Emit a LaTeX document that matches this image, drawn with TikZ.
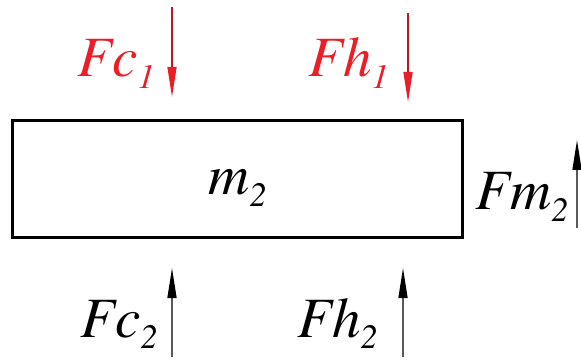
\documentclass[tikz,border=0pt]{standalone}
\usepackage{mathptmx}
\usepackage{xcolor}
\usepackage{tikz}
\usetikzlibrary{arrows.meta, positioning}
\definecolor{forcered}{RGB}{235,30,40}
\newcommand{\forcelbl}[2]{$\mathit{#1}_{\raisebox{-1.5pt}{$\scriptscriptstyle\mathit{#2}$}}$}

\begin{document}
\begin{tikzpicture}[x=0.5pt, y=-0.5pt,
    lbl/.style={anchor=base west, inner sep=0pt, font=\fontsize{28.5}{34}\selectfont},
    pushdown/.style={forcered!80!black, line width=0.7pt,
      -{Triangle[length=15pt, width=4.5pt, fill=forcered, color=forcered]}},
    pushup/.style={black!65, line width=0.7pt,
      -{Triangle[length=15pt, width=4.5pt, fill=black, color=black]}}]
  \useasboundingbox (0,0) rectangle (581,362);

  % Mass block
  \node[draw, line width=1.5pt, minimum width=225pt, minimum height=58.5pt,
        inner sep=0pt] (block) at (237,179.5) {};
  \node[lbl] (mass) at (208,195) {\forcelbl{m}{2}};

  % Top forces (red)
  \coordinate (fc1top) at (172,7);
  \coordinate (fc1tip) at (172,97);
  \coordinate (fh1top) at (408,13);
  \coordinate (fh1tip) at (408,102);
  \draw[pushdown] (fc1top) -- (fc1tip);
  \draw[pushdown] (fh1top) -- (fh1tip);
  \node[lbl, text=forcered] (fc1) at (77,77) {\forcelbl{Fc}{1}};
  \node[lbl, text=forcered] (fh1) at (308,77) {\forcelbl{Fh}{1}};

  % Bottom forces
  \coordinate (fc2low) at (172,357);
  \coordinate (fc2tip) at (172,268);
  \coordinate (fh2low) at (403,357);
  \coordinate (fh2tip) at (403,268);
  \draw[pushup] (fc2low) -- (fc2tip);
  \draw[pushup] (fh2low) -- (fh2tip);
  \node[lbl] (fc2) at (80,337) {\forcelbl{Fc}{2}};
  \node[lbl] (fh2) at (297,337) {\forcelbl{Fh}{2}};

  % Side force
  \coordinate (fm2low) at (577,228);
  \coordinate (fm2tip) at (577,140);
  \draw[pushup] (fm2low) -- (fm2tip);
  \node[lbl] (fm2) at (475,210) {\forcelbl{Fm}{2}};
\end{tikzpicture}
\end{document}
